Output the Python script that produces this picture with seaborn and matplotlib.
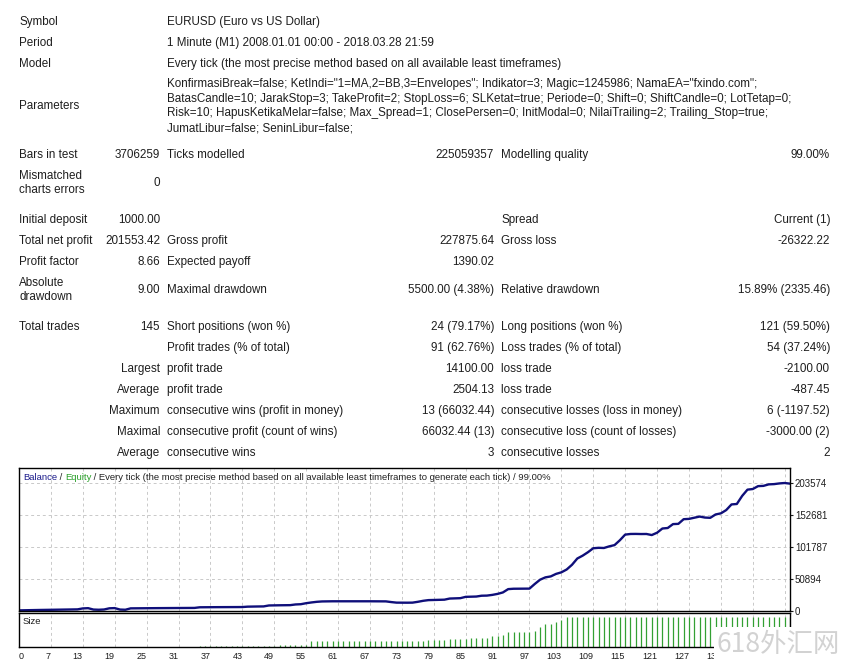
import numpy as np
import pandas as pd
import seaborn as sns
import matplotlib
matplotlib.use("Agg")
import matplotlib.pyplot as plt
from matplotlib.patches import Rectangle

sns.set_theme(style="white")
plt.rcParams["font.family"] = ["Liberation Sans", "DejaVu Sans"]

# ---------------- data ----------------
report_rows = [
    ("Symbol", "", "EURUSD (Euro vs US Dollar)", "", "", ""),
    ("Period", "", "1 Minute (M1) 2008.01.01 00:00 - 2018.03.28 21:59", "", "", ""),
    ("Model", "", "Every tick (the most precise method based on all available least timeframes)", "", "", ""),
    ("Parameters", "",
     'KonfirmasiBreak=false; KetIndi="1=MA,2=BB,3=Envelopes"; Indikator=3; Magic=1245986; NamaEA="fxindo.com";\n'
     "BatasCandle=10; JarakStop=3; TakeProfit=2; StopLoss=6; SLKetat=true; Periode=0; Shift=0; ShiftCandle=0; LotTetap=0;\n"
     "Risk=10; HapusKetikaMelar=false; Max_Spread=1; ClosePersen=0; InitModal=0; NilaiTrailing=2; Trailing_Stop=true;\n"
     "JumatLibur=false; SeninLibur=false;", "", "", ""),
    ("Bars in test", "3706259", "Ticks modelled", "225059357", "Modelling quality", "99.00%"),
    ("Mismatched\ncharts errors", "0", "", "", "", ""),
    ("Initial deposit", "1000.00", "", "", "Spread", "Current (1)"),
    ("Total net profit", "201553.42", "Gross profit", "227875.64", "Gross loss", "-26322.22"),
    ("Profit factor", "8.66", "Expected payoff", "1390.02", "", ""),
    ("Absolute\ndrawdown", "9.00", "Maximal drawdown", "5500.00 (4.38%)", "Relative drawdown", "15.89% (2335.46)"),
    ("Total trades", "145", "Short positions (won %)", "24 (79.17%)", "Long positions (won %)", "121 (59.50%)"),
    ("", "", "Profit trades (% of total)", "91 (62.76%)", "Loss trades (% of total)", "54 (37.24%)"),
    ("", "Largest", "profit trade", "14100.00", "loss trade", "-2100.00"),
    ("", "Average", "profit trade", "2504.13", "loss trade", "-487.45"),
    ("", "Maximum", "consecutive wins (profit in money)", "13 (66032.44)", "consecutive losses (loss in money)", "6 (-1197.52)"),
    ("", "Maximal", "consecutive profit (count of wins)", "66032.44 (13)", "consecutive loss (count of losses)", "-3000.00 (2)"),
    ("", "Average", "consecutive wins", "3", "consecutive losses", "2"),
]

balance = [
    1000, 1200, 1350, 1500, 1650, 1800, 1900, 2050, 2200, 2300,
    2450, 2600, 4100, 4500, 2300, 2000, 2400, 4300, 4600, 2300,
    2000, 4200, 4300, 4400, 4450, 4500, 4550, 4600, 4650, 4700,
    4750, 4800, 4850, 4900, 5900, 6000, 6050, 6100, 6100, 6150,
    6200, 6250, 6300, 6900, 7100, 7200, 7300, 8800, 9000, 9100,
    9200, 9300, 10400, 10800, 12400, 13600, 14600, 15200, 15400, 15450,
    15500, 15450, 15400, 15450, 15500, 15400, 15450, 15400, 15350, 15300,
    14200, 13300, 13200, 13200, 13300, 14600, 16200, 17300, 17500, 17600,
    18000, 19800, 20100, 20400, 22500, 22800, 23000, 24300, 24500, 25600,
    27200, 29500, 34800, 35400, 35500, 35500, 35600, 43000, 49800, 53500,
    55000, 59000, 61500, 66000, 73500, 83500, 88000, 93500, 99800, 100500,
    100200, 102800, 104800, 112500, 121500, 122500, 122600, 122400, 122500, 120800,
    124500, 131200, 132000, 138200, 138600, 146000, 146500, 148300, 150200, 148600,
    148200, 153500, 155300, 160500, 169500, 170200, 183000, 193000, 194000, 198600,
    199000, 201400, 201800, 202900, 203574, 202553,
]

lots = [
    0.1, 0.1, 0.1, 0.1, 0.1, 0.1, 0.1, 0.1, 0.1, 0.1,
    0.1, 0.2, 0.2, 0.2, 0.2, 0.2, 0.2, 0.2, 0.2, 0.2,
    0.2, 0.3, 0.3, 0.3, 0.3, 0.3, 0.3, 0.3, 0.3, 0.3,
    0.3, 0.3, 0.3, 0.4, 0.4, 0.4, 0.4, 0.4, 0.4, 0.4,
    0.4, 0.4, 0.4, 1.5, 1.5, 1.5, 1.5, 1.5, 3.5, 3.5,
    3.5, 3.5, 3.5, 3.5, 10, 10, 10, 10, 10, 10,
    10, 10, 10, 10, 10, 10, 10, 10, 10, 9,
    9, 9, 9, 9, 9, 9, 11, 11, 11, 11,
    13, 13, 13, 13, 15, 15, 15, 15, 17, 17,
    19, 24, 24, 24, 24, 24, 26, 32, 37, 37,
    41, 45, 50, 50, 50, 50, 50, 50, 50, 50,
    50, 50, 50, 50, 50, 50, 50, 50, 50, 50,
    50, 50, 50, 50, 50, 50, 50, 50, 50, 50,
    50, 50, 50, 50, 50, 50, 50, 50, 50, 50,
    50, 50, 50, 50, 50,
]

y_tick_values = [0, 50894, 101787, 152681, 203574]
y_tick_labels = ["0", "50894", "101787", "152681", "203574"]
x_tick_labels = ["0", "7", "13", "19", "25", "31", "37", "43", "49", "55", "61", "67",
                 "73", "79", "85", "91", "97", "103", "109", "115", "121", "127", "133"]

chart_title_parts = [("Balance", "#1c1c8c"), (" / ", "#222222"), ("Equity", "#2aa02a"),
                     (" / Every tick (the most precise method based on all available least "
                      "timeframes to generate each tick) / 99.00%", "#222222")]
watermark = "618外汇网"

# ---------------- layout ----------------
W, H = 843, 666
fig = plt.figure(figsize=(W / 100, H / 100), dpi=100)
fig.patch.set_facecolor("white")


def fy(y):
    return 1 - y / H


row_y = [22, 43, 64, 106, 155, 183, 220, 241, 262, 290, 327, 348, 369, 390, 411, 432, 453]
col_x = [19, 160, 167, 494, 501, 830]
col_ha = ["left", "right", "left", "right", "left", "right"]
FS = 8.4
TC = "#1e1e1e"
for y, row in zip(row_y, report_rows):
    for x, ha, s in zip(col_x, col_ha, row):
        if s:
            fig.text(x / W, fy(y), s, ha=ha, va="center", fontsize=FS, color=TC,
                     linespacing=1.32)

# chart axes
L, R = 19, 790
ax = fig.add_axes([L / W, fy(611), (R - L) / W, (611 - 468) / H])
ax2 = fig.add_axes([L / W, fy(646.7), (R - L) / W, (646.7 - 613.3) / H])

df = pd.DataFrame({"trade": np.arange(len(balance)), "balance": balance})
sns.lineplot(data=df, x="trade", y="balance", ax=ax, color="#0f0f7a", lw=1.7)

trades_sz = np.arange(1, len(lots) + 1)
ax2.vlines(trades_sz, 0, lots, colors="#33a033", lw=0.9)

grid_pos = [6 * k for k in range(len(x_tick_labels))] + [138, 144]
for a in (ax, ax2):
    a.set_xlim(0, 145)
    a.set_xticks(grid_pos)
    a.grid(True, ls=(0, (3, 3)), color="#c9c9c9", lw=0.7)
    a.set_xlabel("")
    a.set_ylabel("")
    for sp in a.spines.values():
        sp.set_color("black")
        sp.set_linewidth(1.0)
    a.set_facecolor("white")

ax.set_ylim(0, 227430)
ax.yaxis.tick_right()
ax.set_yticks(y_tick_values)
ax.set_yticklabels(y_tick_labels)
ax.tick_params(axis="y", length=2, width=0.8, pad=1.5, labelsize=7, colors=TC, right=True)
ax.tick_params(axis="x", length=0, labelbottom=False)

ax2.set_ylim(0, 55.5)
ax2.set_yticks([])
ax2.set_xticklabels(x_tick_labels + ["", ""])
ax2.tick_params(axis="x", length=0, pad=3.5, labelsize=6.5, colors=TC)
for i, t in enumerate(ax2.get_xticklabels()):
    t.set_ha("left" if i == 0 else "right")

# chart captions
fig.canvas.draw()
rend = fig.canvas.get_renderer()
x0 = 23
for s, c in chart_title_parts:
    t = fig.text(x0 / W, fy(477.5), s, color=c, fontsize=6.8, va="center", ha="left")
    x0 += t.get_window_extent(renderer=rend).width
fig.text(23 / W, fy(621.5), "Size", color=TC, fontsize=6.8, va="center", ha="left")

# watermark box
fig.patches.append(Rectangle((714 / W, 0), (W - 714) / W, (H - 627) / H,
                             transform=fig.transFigure, facecolor="white",
                             edgecolor="none", zorder=10))
fig.text(778 / W, fy(645), watermark, color="#d2d2d2", fontsize=19, ha="center",
         va="center", family=["Noto Sans CJK SC", "DejaVu Sans"], zorder=11)

fig.savefig("out.png", dpi=100, facecolor="white")
